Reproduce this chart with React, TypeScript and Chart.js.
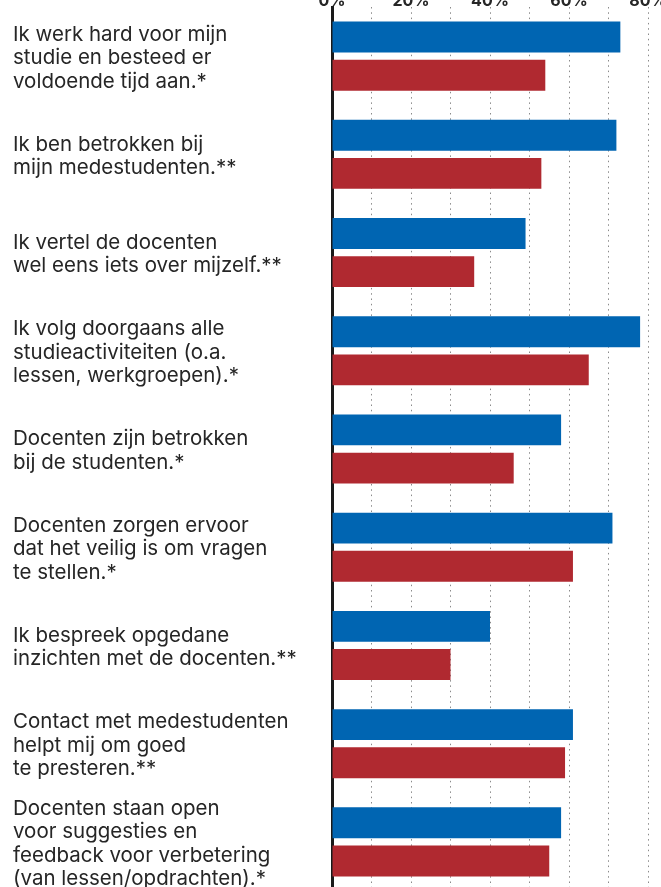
import React, { useEffect, useRef } from "react";
import { Chart, registerables } from "chart.js";

Chart.register(...registerables);

const categories: string[][] = [
  ["Ik werk hard voor mijn", "studie en besteed er", "voldoende tijd aan.*"],
  ["Ik ben betrokken bij", "mijn medestudenten.**"],
  ["Ik vertel de docenten", "wel eens iets over mijzelf.**"],
  ["Ik volg doorgaans alle", "studieactiviteiten (o.a.", "lessen, werkgroepen).*"],
  ["Docenten zijn betrokken", "bij de studenten.*"],
  ["Docenten zorgen ervoor", "dat het veilig is om vragen", "te stellen.*"],
  ["Ik bespreek opgedane", "inzichten met de docenten.**"],
  ["Contact met medestudenten", "helpt mij om goed", "te presteren.**"],
  ["Docenten staan open", "voor suggesties en", "feedback voor verbetering", "(van lessen/opdrachten).*"],
];

const blueValues = [73, 72, 49, 78, 58, 71, 40, 61, 58];
const redValues = [54, 53, 36, 65, 46, 61, 30, 59, 55];
const xMax = 80;
const xStep = 10;
const labelEvery = 20;

const BLUE = "#0065b2";
const RED = "#b02930";
const TEXT = "#262626";

export default function App() {
  const ref = useRef<HTMLCanvasElement | null>(null);

  useEffect(() => {
    if (!ref.current) return;
    const chart = new Chart(ref.current, {
      type: "bar",
      data: {
        labels: categories,
        datasets: [
          {
            label: "Groep 1",
            data: blueValues,
            backgroundColor: BLUE,
            categoryPercentage: 0.777,
            barPercentage: 0.81,
          },
          {
            label: "Groep 2",
            data: redValues,
            backgroundColor: RED,
            categoryPercentage: 0.777,
            barPercentage: 0.81,
          },
        ],
      },
      options: {
        indexAxis: "y",
        responsive: false,
        animation: false,
        layout: { padding: { left: 13, right: 52, top: 0, bottom: 0 } },
        plugins: {
          legend: { display: false },
          tooltip: { enabled: false },
        },
        scales: {
          x: {
            position: "top",
            min: 0,
            max: xMax,
            afterFit: (scale: any) => {
              scale.height = 20;
            },
            grid: {
              color: (ctx: any) => (ctx.tick && ctx.tick.value === 0 ? "rgba(0,0,0,0)" : "#8a8a8a"),
              lineWidth: 1,
              drawTicks: false,
            },
            border: { display: false, dash: [1.5, 3.8] },
            ticks: {
              stepSize: xStep,
              autoSkip: false,
              maxRotation: 0,
              padding: -4,
              color: TEXT,
              font: { family: "Inter", size: 16, weight: "bold" },
              callback: (v: any) => (Number(v) % labelEvery === 0 ? v + "%" : ""),
            },
          },
          y: {
            z: 1,
            grid: { display: false, drawTicks: false },
            border: { display: true, color: "#1a1a1a", width: 3 },
            afterFit: (scale: any) => {
              scale.width = 319;
              scale.paddingTop = 0;
              scale.paddingBottom = 0;
            },
            ticks: {
              crossAlign: "far",
              padding: 0,
              labelOffset: 2,
              color: TEXT,
              font: { family: "Inter", size: 20.5, lineHeight: 1.146 },
            },
          },
        },
      },
    });
    return () => chart.destroy();
  }, []);

  return (
    <div
      style={{
        position: "fixed",
        top: 0,
        left: 0,
        width: 661,
        height: 887,
        overflow: "hidden",
        background: "#ffffff",
      }}
    >
      <canvas
        ref={ref}
        width={700}
        height={904}
        style={{ position: "absolute", top: -13, left: 0, width: 700, height: 904 }}
      />
    </div>
  );
}
